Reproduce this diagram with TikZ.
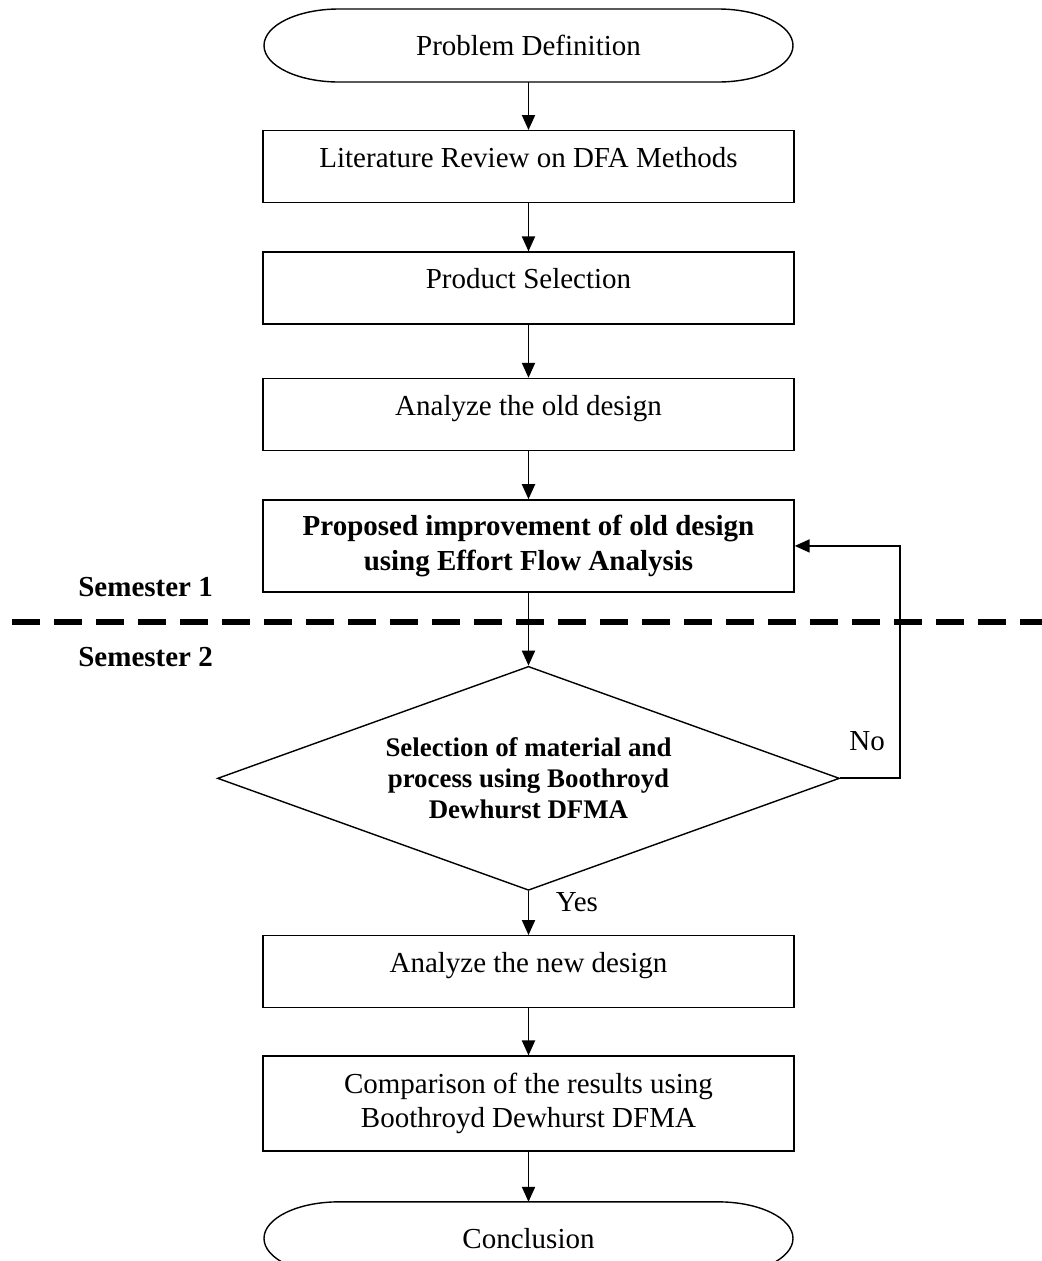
\documentclass[tikz,border=0pt]{standalone}
\usepackage{fontspec}
\setmainfont{Liberation Serif}
\usetikzlibrary{arrows.meta,positioning,shapes.geometric}
\newcommand{\termoutline}[1]{%
  \draw[line width=0.8pt] ([xshift=1.5cm]#1.north west) -- ([xshift=-1.5cm]#1.north east)
    arc[start angle=90,end angle=-90,x radius=1.5cm,y radius=0.73cm]
    -- ([xshift=1.5cm]#1.south west)
    arc[start angle=270,end angle=90,x radius=1.5cm,y radius=0.73cm] -- cycle;}

\begin{document}
\begin{tikzpicture}[node distance=0.96cm, every node/.style={font=\fontsize{16.5}{19.5}\selectfont},
    box/.style={draw,line width=0.8pt,minimum width=10.62cm,minimum height=1.44cm,align=center},
    oneline/.style={text depth=0.37cm},
    term/.style={minimum width=10.58cm,minimum height=1.46cm,outer sep=0pt},
    decision/.style={diamond,draw,line width=0.8pt,aspect=2.8,minimum width=12.44cm,minimum height=4.48cm,inner sep=0pt,align=center,font=\fontsize{15.3}{17.6}\selectfont\bfseries},
    arr/.style={-{Triangle[length=3mm,width=2.6mm]},line width=1.1pt}]
    \useasboundingbox (0,0) rectangle (20.84,-25.22);
    \node[term] (start) at (10.57,-0.91) {Problem Definition};
    \node[box,oneline,below=of start] (lit) {Literature Review on DFA Methods};
    \node[box,oneline,below=of lit] (prod) {Product Selection};
    \node[box,oneline,below=1.06cm of prod] (old) {Analyze the old design};
    \node[box,below=of old,minimum height=1.84cm,font=\fontsize{16.5}{19.5}\selectfont\bfseries] (prop) {Proposed improvement of old design\\using Effort Flow Analysis};
    \node[decision,below=1.46cm of prop] (dec) {Selection of material and\\process using Boothroyd\\Dewhurst DFMA};
    \node[box,oneline,below=0.88cm of dec] (new) {Analyze the new design};
    \node[box,below=0.94cm of new,minimum height=1.9cm] (comp) {Comparison of the results using\\Boothroyd Dewhurst DFMA};
    \node[term,below=1.0cm of comp] (concl) {Conclusion};
    \termoutline{start}
    \termoutline{concl}
    % semester split
    \node[anchor=west,inner sep=0pt,font=\fontsize{16.5}{19.5}\selectfont\bfseries] (sem1) at (1.56,-11.74) {Semester 1};
    \node[anchor=west,inner sep=0pt,font=\fontsize{16.5}{19.5}\selectfont\bfseries] (sem2) at (1.56,-13.14) {Semester 2};
    \draw[line width=0.12cm,dash pattern=on 0.56cm off 0.28cm] (0.24,-12.44) -- (20.84,-12.44);
    \draw[arr] (start) -- (lit);
    \draw[arr] (lit) -- (prod);
    \draw[arr] (prod) -- (old);
    \draw[arr] (old) -- (prop);
    \draw[arr] (prop) -- (dec);
    \draw[arr] (dec) -- node[right=0.41cm,pos=0.25]{Yes} (new);
    \draw[arr] (dec.east) -- node[above=0.42cm,pos=0.45]{No} ++(1.2,0) |- (prop.east);
    \draw[arr] (new) -- (comp);
    \draw[arr] (comp) -- (concl);
\end{tikzpicture}
\end{document}
